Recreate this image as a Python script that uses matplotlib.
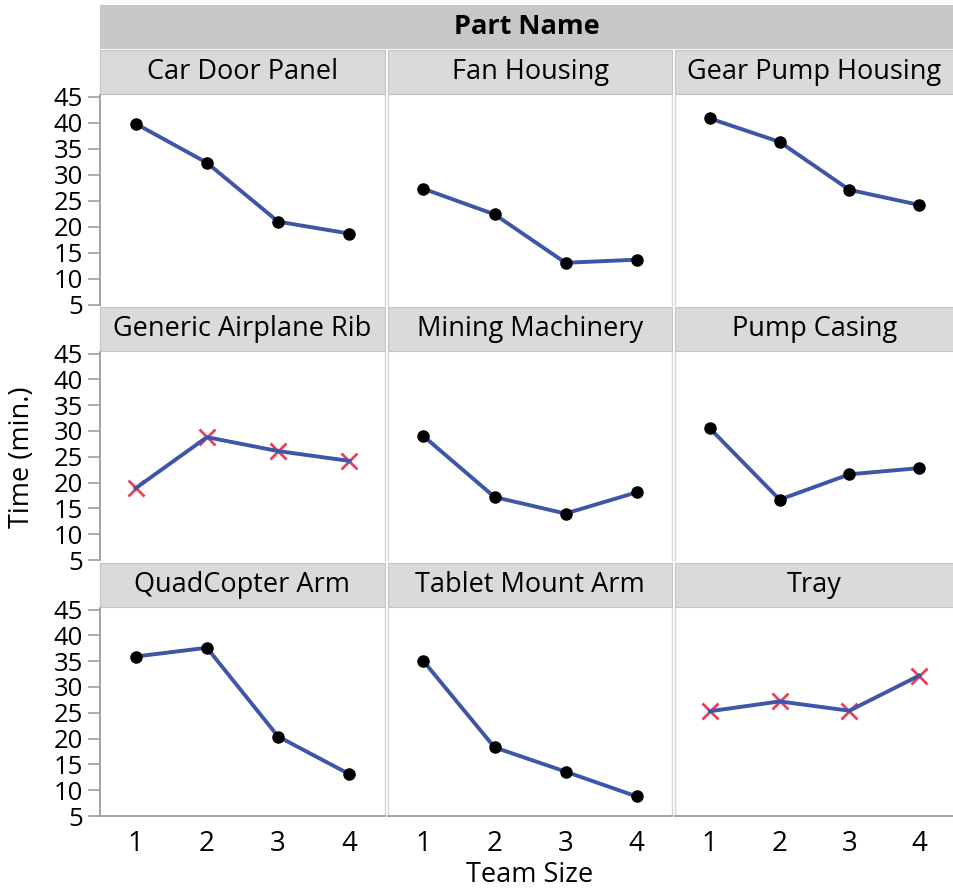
import matplotlib
matplotlib.use("Agg")
import matplotlib.pyplot as plt
from matplotlib.patches import Rectangle

plt.rcParams['font.family'] = ['Open Sans', 'DejaVu Sans']

# mean build time per team size, one list per part
team_size = [1, 2, 3, 4]
car_door_panel = [39.8, 32.3, 21.0, 18.7]
fan_housing = [27.3, 22.4, 13.1, 13.7]
gear_pump_housing = [40.8, 36.3, 27.1, 24.2]
generic_airplane_rib = [18.9, 28.8, 26.1, 24.2]
mining_machinery = [29.0, 17.2, 14.0, 18.1]
pump_casing = [30.5, 16.7, 21.6, 22.8]
quadcopter_arm = [35.9, 37.6, 20.4, 13.1]
tablet_mount_arm = [35.0, 18.3, 13.6, 8.8]
tray = [25.3, 27.2, 25.4, 32.2]

part_names = ["Car Door Panel", "Fan Housing", "Gear Pump Housing",
              "Generic Airplane Rib", "Mining Machinery", "Pump Casing",
              "QuadCopter Arm", "Tablet Mount Arm", "Tray"]
part_times = [car_door_panel, fan_housing, gear_pump_housing,
              generic_airplane_rib, mining_machinery, pump_casing,
              quadcopter_arm, tablet_mount_arm, tray]
flagged = ["Generic Airplane Rib", "Tray"]
y_ticks = [5, 10, 15, 20, 25, 30, 35, 40, 45]

W, H = 954, 888
fig = plt.figure(figsize=(W / 100, H / 100), dpi=100)

# panel layout in pixels (left, width) and (top, bottom)
cols = [(100, 285), (388, 284), (675, 279)]
rows = [(95, 305), (352, 560), (608, 816)]
strip_h = 44

line_col = '#3f55a8'
strip_col = '#dadada'
head_col = '#c9c7c7'
sep_col = '#d6d6d6'
axis_col = '#9c9c9c'


def fig_rect(x, y_top, w, h):
    return [x / W, 1 - (y_top + h) / H, w / W, h / H]


# "Part Name" header band
hx, hy, hw, hh = fig_rect(100, 5, 854, 44)
fig.patches.append(Rectangle((hx, hy), hw, hh, transform=fig.transFigure,
                             facecolor=head_col, edgecolor='none', zorder=0))
fig.text(hx + hw / 2, hy + hh / 2, "Part Name", ha='center', va='center',
         fontsize=19.5, fontweight='bold')

for i, (name, times) in enumerate(zip(part_names, part_times)):
    r, c = divmod(i, 3)
    left, width = cols[c]
    top, bottom = rows[r]

    # facet strip
    sx, sy, sw, sh = fig_rect(left, top - strip_h - 1, width, strip_h)
    fig.patches.append(Rectangle((sx, sy), sw, sh, transform=fig.transFigure,
                                 facecolor=strip_col, edgecolor='#c4c4c4',
                                 linewidth=0.8, zorder=0))
    fig.text(sx + sw / 2, sy + sh / 2, name, ha='center', va='center',
             fontsize=19.5)

    ax = fig.add_axes(fig_rect(left, top, width, bottom - top))
    if name in flagged:
        ax.plot(team_size, times, linestyle='none', marker='x', markersize=11,
                markeredgewidth=2, color='#e8405c', zorder=2)
        ax.plot(team_size, times, color=line_col, linewidth=2.8, zorder=3)
    else:
        ax.plot(team_size, times, color=line_col, linewidth=2.8, zorder=2)
        ax.plot(team_size, times, linestyle='none', marker='o', markersize=8,
                color='black', zorder=3)

    ax.set_xlim(0.5, 4.5)
    ax.set_ylim(5, 45.3)
    ax.set_yticks(y_ticks)
    ax.set_xticks(team_size)

    for side in ['left', 'right', 'top', 'bottom']:
        ax.spines[side].set_color(sep_col)
        ax.spines[side].set_linewidth(1.0)
    ax.spines['top'].set_visible(False)
    if r < 2:
        ax.spines['bottom'].set_visible(False)
    else:
        ax.spines['bottom'].set_color(axis_col)
        ax.spines['bottom'].set_linewidth(1.3)
    if c == 0:
        ax.spines['left'].set_color(axis_col)
        ax.spines['left'].set_linewidth(1.3)
        ax.tick_params(axis='y', length=9, width=1.2, color=axis_col, pad=3,
                       labelsize=18.5)
    else:
        ax.tick_params(axis='y', left=False, labelleft=False)
    if r == 2:
        ax.tick_params(axis='x', length=0, pad=10, labelsize=20)
    else:
        ax.tick_params(axis='x', bottom=False, labelbottom=False)

fig.text(22 / W, 1 - 457 / H, "Time (min.)", rotation=90, ha='center',
         va='center', fontsize=19.5)
fig.text(530 / W, 1 - 875 / H, "Team Size", ha='center', va='center',
         fontsize=19.5)

fig.savefig("out.png", dpi=100)
